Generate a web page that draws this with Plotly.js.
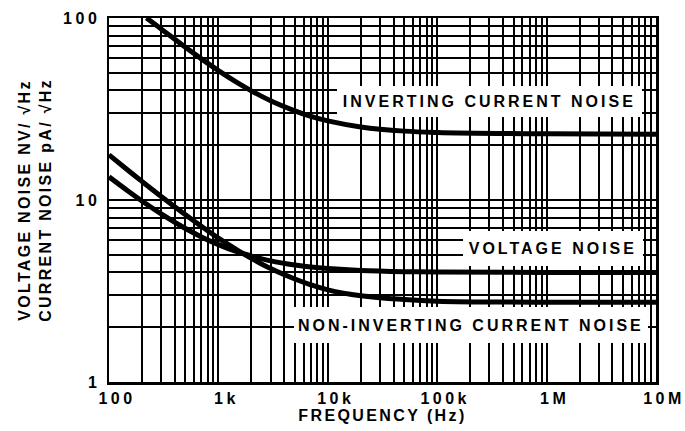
<!DOCTYPE html>
<html>
<head>
<meta charset="utf-8">
<script src="https://cdn.plot.ly/plotly-3.0.1.min.js"></script>
<style>
  html, body { margin: 0; padding: 0; background: #fff; }
  #chart { width: 685px; height: 431px; }
  #chart text { letter-spacing: 3px; }
  #chart .xtick text, #chart .ytick text { letter-spacing: 3.5px; }
  #chart .g-ytitle text { letter-spacing: 2.3px; }
  #chart .g-xtitle text { letter-spacing: 2.4px; }
</style>
</head>
<body>
<div id="chart"></div>
<script>
// Frequencies (Hz)
const freqHz = [100, 150, 200, 300, 500, 700, 1000, 1500, 2000, 3000, 5000, 7000, 10000, 20000, 50000, 100000, 1000000, 10000000];
// Voltage noise (nV/√Hz)
const voltageNoise = [13.4, 11.17, 9.88, 8.39, 6.97, 6.27, 5.69, 5.18, 4.92, 4.63, 4.39, 4.28, 4.2, 4.1, 4.04, 4.02, 4.0, 4.0];
// Non-inverting current noise (pA/√Hz)
const nonInvNoise = [17.7, 14.53, 12.66, 10.46, 8.29, 7.16, 6.17, 5.29, 4.78, 4.2, 3.68, 3.42, 3.21, 2.98, 2.84, 2.78, 2.74, 2.74];
// Inverting current noise (pA/√Hz)
const invFreqHz = [220, 300, 500, 700, 1000, 1500, 2000, 3000, 5000, 7000, 10000, 20000, 50000, 100000, 1000000, 10000000];
const invNoise = [100, 87.1, 69.0, 59.6, 51.4, 44.0, 39.8, 35.1, 30.9, 28.8, 27.2, 25.2, 23.9, 23.5, 23.1, 23.0];

// Axis tick labels
const xTickVals = [100, 1000, 10000, 100000, 1000000, 10000000];
const xTickText = ['100', '1k', '10k', '100k', '1M', '10M'];
const yTickVals = [1, 10, 100];
const yTickText = ['1', '10', '100'];

const labels = ['INVERTING CURRENT NOISE', 'VOLTAGE NOISE', 'NON-INVERTING CURRENT NOISE'];

const fontFam = 'Liberation Sans, Arial, sans-serif';
const lineStyle = { color: '#000', width: 5, shape: 'spline', smoothing: 1 };

const traces = [
  { x: invFreqHz, y: invNoise, mode: 'lines', line: lineStyle, name: labels[0], hoverinfo: 'skip' },
  { x: freqHz, y: voltageNoise, mode: 'lines', line: lineStyle, name: labels[1], hoverinfo: 'skip' },
  { x: freqHz, y: nonInvNoise, mode: 'lines', line: lineStyle, name: labels[2], hoverinfo: 'skip' }
];

const axisCommon = {
  type: 'log',
  showgrid: true, gridcolor: '#000', gridwidth: 2,
  showline: true, linecolor: '#000', linewidth: 2.5, mirror: true,
  ticks: '', zeroline: false,
  tickfont: { family: fontFam, size: 16, color: '#000', weight: 'bold' },
  minor: { dtick: 'D1', showgrid: true, gridcolor: '#000', gridwidth: 2, ticks: '' }
};

const annFont = { family: fontFam, size: 16, color: '#000', weight: 'bold' };
function box(text, x, y, w, h) {
  return { text: text, xref: 'paper', yref: 'paper', x: x, y: y, xanchor: 'center', yanchor: 'middle',
           showarrow: false, bgcolor: '#fff', borderpad: 0, borderwidth: 0, width: w, height: h, font: annFont };
}

const layout = {
  width: 685, height: 431,
  margin: { l: 109, r: 29, t: 18, b: 49 },
  paper_bgcolor: '#fff', plot_bgcolor: '#fff',
  showlegend: false,
  xaxis: Object.assign({}, axisCommon, {
    range: [2, 7], tickvals: xTickVals, ticktext: xTickText, ticklabelshift: 8, ticklabelstandoff: 0,
    title: { text: 'FREQUENCY (Hz)', font: { family: fontFam, size: 16, color: '#000', weight: 'bold' }, standoff: 3 }
  }),
  yaxis: Object.assign({}, axisCommon, {
    range: [0, 2], tickvals: yTickVals, ticktext: yTickText, ticklabelstandoff: 3,
    title: { text: 'VOLTAGE NOISE NV/ √Hz<br>CURRENT NOISE pA/ √Hz', font: { family: fontFam, size: 16, color: '#000', weight: 'bold' }, standoff: 18 }
  }),
  annotations: [
    box(labels[0], 0.6956, 0.7706, 305, 31),
    box(labels[1], 0.8108, 0.3668, 180, 35),
    box(labels[2], 0.6618, 0.1566, 354, 36)
  ]
};

Plotly.newPlot('chart', traces, layout, { staticPlot: true, displayModeBar: false });
</script>
</body>
</html>
